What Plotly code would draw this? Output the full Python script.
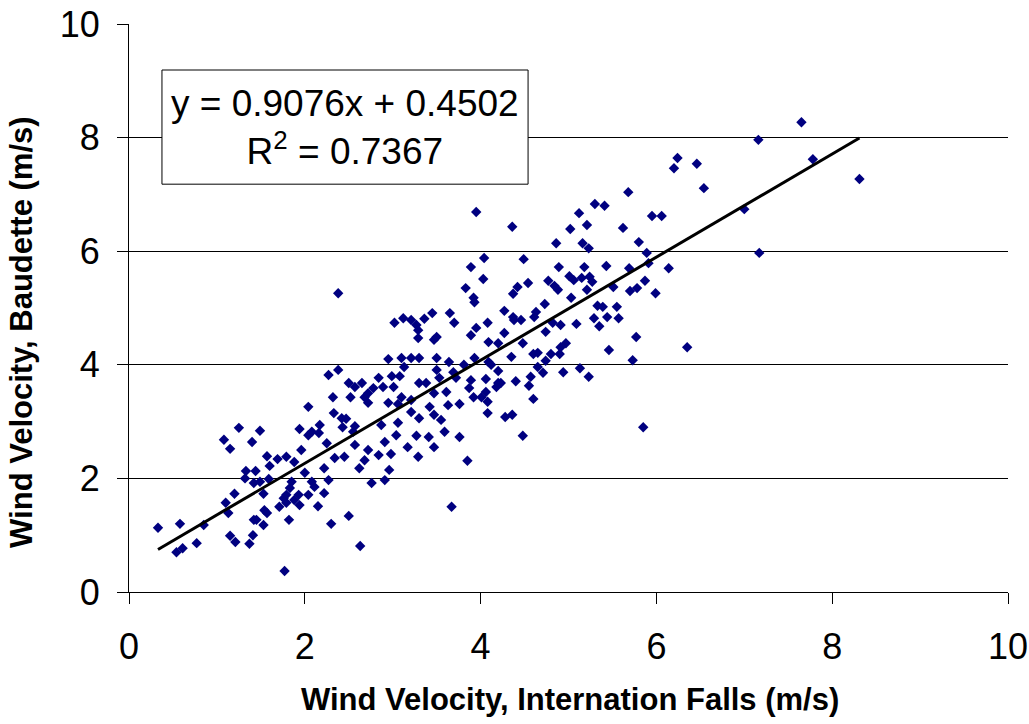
import plotly.graph_objects as go

# Wind velocity (m/s) at International Falls (x) and Baudette (y)
wind_intl_falls = [
    2.04, 1.25, 1.49, 1.94, 1.08, 1.40, 1.15, 1.57, 1.69, 1.79, 1.88, 1.60, 1.33, 1.44, 1.32, 1.42, 1.49, 1.59,
    1.85, 2.00, 1.83, 1.79, 1.93, 1.53, 1.20, 1.10, 1.13, 1.71, 1.79, 1.94, 2.04, 1.54, 1.57, 1.82, 1.42, 1.45,
    1.53, 0.85, 0.58, 0.33, 1.15, 1.21, 1.41, 1.37, 0.77, 0.54, 0.61, 1.77, 1.76, 1.88, 1.96,
    2.33, 2.42, 2.47, 2.17, 2.08, 2.04, 2.16, 2.43, 2.57, 2.55, 2.72, 2.95, 3.06, 3.21, 3.30, 3.42, 3.47, 3.55,
    3.63, 3.76, 3.59, 3.76, 3.47, 3.41, 3.27, 3.17, 3.04, 3.06, 2.87, 2.91, 2.72, 2.84, 2.98, 2.68, 2.62, 2.96,
    2.91, 2.76, 3.29, 3.85, 2.57, 2.45, 2.34, 2.25, 2.22, 2.27, 2.08, 2.11, 2.22, 2.15, 3.67, 2.50, 2.30, 2.63,
    2.38, 3.89, 3.83, 3.92, 3.93, 3.02, 3.12, 3.21, 3.27, 3.29, 3.36, 3.45, 3.29, 3.47, 3.50, 3.65, 3.70, 3.89,
    3.95, 2.95, 3.10, 3.21, 3.30, 3.13, 3.50, 3.64, 3.93, 2.38, 2.27, 3.50, 3.69, 3.81, 2.99, 3.08, 2.84, 2.50,
    2.65, 2.57, 2.78, 2.89, 3.01, 3.30, 3.38, 3.53, 3.72, 3.89, 2.72, 2.68, 2.32, 2.52, 3.10, 3.21, 3.47, 3.61,
    3.92, 3.87,
    3.95, 4.36, 5.68, 5.30, 5.41, 5.12, 5.21, 5.02, 5.62, 4.86, 5.16, 5.23, 5.80, 5.89, 4.04, 4.49, 4.89, 5.18,
    5.43, 5.69, 4.03, 4.54, 4.42, 4.37, 4.77, 4.84, 4.88, 5.01, 5.06, 5.15, 5.24, 5.27, 5.21, 5.03, 5.51, 5.70,
    5.78, 5.87, 4.27, 4.37, 4.46, 4.63, 4.61, 4.73, 4.82, 4.91, 5.09, 5.33, 5.39, 5.55, 5.29, 5.44, 5.57, 5.35,
    5.77, 4.08, 4.09, 4.20, 4.27, 4.38, 4.48, 4.74, 4.97,
    4.35, 4.60, 4.65, 4.80, 4.90, 4.91, 5.46, 5.73, 4.74, 4.65, 4.71, 4.94, 5.13, 5.23, 4.57, 4.55, 4.40, 4.60,
    4.09, 4.12, 4.20, 4.06, 4.20, 4.23, 4.18, 4.06, 4.01, 4.08, 4.08, 4.28, 4.36, 4.48, 5.85,
    7.65, 7.16, 7.78, 8.31, 6.24, 6.20, 6.46, 6.54, 7.00, 5.95, 6.06, 7.17, 5.91, 6.14, 5.99, 6.35,
]
wind_baudette = [
    3.26, 2.89, 2.84, 2.87, 2.68, 2.64, 2.52, 2.39, 2.34, 2.38, 2.29, 2.22, 2.13, 2.13, 2.00, 1.92, 1.94, 1.99,
    1.94, 2.10, 1.83, 1.71, 1.71, 1.73, 1.73, 1.57, 1.39, 1.50, 1.57, 1.53, 1.71, 1.44, 1.39, 1.27, 1.27, 1.27,
    1.18, 1.18, 1.20, 1.13, 0.99, 0.88, 1.00, 0.85, 0.86, 0.70, 0.77, 0.37, 1.65, 1.62, 2.50,
    3.15, 3.06, 3.05, 2.94, 2.82, 2.76, 2.80, 2.90, 2.92, 2.82, 3.33, 3.33, 3.31, 3.17, 3.06, 3.26, 3.12, 3.03,
    3.29, 3.31, 2.82, 2.73, 2.55, 2.73, 2.75, 2.55, 2.76, 2.98, 2.94, 2.64, 2.50, 2.41, 2.43, 2.32, 2.18, 2.15,
    1.97, 1.92, 2.38, 2.31, 2.59, 2.38, 2.36, 2.62, 2.18, 1.97, 1.94, 1.85, 1.74, 1.51, 1.50, 1.34, 1.20, 0.81,
    5.26, 5.72, 5.35, 5.18, 5.10, 4.74, 4.82, 4.79, 4.70, 4.61, 4.81, 4.91, 4.47, 4.44, 4.49, 4.91, 4.74, 4.52,
    4.65, 4.10, 4.12, 4.12, 4.12, 3.96, 4.12, 4.05, 4.12, 3.91, 3.82, 3.91, 3.87, 4.00, 3.80, 3.80, 3.77, 3.68,
    3.68, 3.61, 3.59, 3.61, 3.61, 3.68, 3.68, 3.77, 3.77, 3.73, 3.50, 3.43, 3.43, 3.43, 3.43, 3.38, 3.50, 3.52,
    3.43, 3.59,
    6.69, 6.43, 7.04, 6.83, 6.80, 6.67, 6.46, 6.39, 6.41, 6.14, 6.14, 6.05, 6.16, 5.97, 5.88, 5.86, 5.72, 5.72,
    5.74, 5.70, 5.51, 5.44, 5.37, 5.25, 5.48, 5.39, 5.32, 5.56, 5.49, 5.53, 5.55, 5.46, 5.32, 5.18, 5.37, 5.30,
    5.35, 5.48, 4.95, 4.84, 4.79, 4.93, 4.84, 5.07, 4.74, 4.70, 4.72, 5.04, 5.02, 5.02, 4.82, 4.84, 4.82, 4.68,
    4.49, 4.74, 4.40, 4.38, 4.56, 4.79, 4.38, 4.58, 4.38,
    4.14, 4.19, 4.21, 4.19, 4.19, 4.31, 4.26, 4.08, 4.07, 3.96, 3.86, 3.87, 3.94, 3.79, 3.79, 3.63, 3.71, 3.40,
    4.05, 4.00, 3.89, 3.75, 3.68, 3.68, 3.61, 3.52, 3.43, 3.35, 3.15, 3.08, 3.12, 2.75, 2.90,
    8.27, 7.96, 7.62, 7.27, 7.64, 7.46, 7.54, 7.11, 6.74, 6.62, 6.62, 5.97, 5.79, 5.70, 5.26, 4.31,
]

# Linear trend shown on the chart
trend_slope = 0.9076
trend_intercept = 0.4502
r_squared = 0.7367

x_tick_vals = [0, 2, 4, 6, 8, 10]
y_tick_vals = [0, 2, 4, 6, 8, 10]

FONT = "Liberation Sans, Arial, sans-serif"

fig = go.Figure()
fig.add_trace(go.Scatter(
    x=wind_intl_falls, y=wind_baudette, mode="markers",
    marker=dict(symbol="diamond", size=8, color="#000080", line=dict(width=0)),
    hoverinfo="x+y", cliponaxis=False,
))

x_lo, x_hi = min(wind_intl_falls), max(wind_intl_falls)
fig.add_trace(go.Scatter(
    x=[x_lo, x_hi],
    y=[trend_slope * x_lo + trend_intercept, trend_slope * x_hi + trend_intercept],
    mode="lines", line=dict(color="black", width=3), hoverinfo="skip",
))

fig.update_layout(
    width=1029, height=724,
    margin=dict(l=129, r=21, t=24, b=132, autoexpand=False),
    plot_bgcolor="white", paper_bgcolor="white",
    showlegend=False,
    font=dict(family=FONT, color="black"),
    xaxis=dict(
        range=[0, 10], tickvals=x_tick_vals, showgrid=False, zeroline=False,
        showline=True, linecolor="black", linewidth=1, automargin=False,
        ticks="outside", ticklen=11, tickcolor="black", tickwidth=1,
        ticklabelstandoff=12, ticklabeloverflow="allow",
        tickfont=dict(size=36, family=FONT, color="black"),
    ),
    yaxis=dict(
        range=[0, 10], tickvals=y_tick_vals, showgrid=True, gridcolor="black", gridwidth=1,
        zeroline=False, showline=True, linecolor="black", linewidth=1, automargin=False,
        ticks="outside", ticklen=11, tickcolor="black", tickwidth=1,
        ticklabelstandoff=10, ticklabeloverflow="allow",
        tickfont=dict(size=36, family=FONT, color="black"),
    ),
)

# Equation box
fig.add_shape(type="rect", xref="paper", yref="paper",
              x0=0.0375, x1=0.454, y0=0.718, y1=0.919,
              line=dict(color="black", width=1), fillcolor="white", layer="above")
fig.add_annotation(
    xref="paper", yref="paper", x=0.246, y=0.8185, xanchor="center", yanchor="middle",
    text=f"y = {trend_slope:.4f}x + {trend_intercept:.4f}<br>R<sup>2</sup> = {r_squared:.4f}",
    showarrow=False, align="center", font=dict(size=37, family=FONT, color="black"),
)

# Axis titles
fig.add_annotation(
    xref="paper", yref="paper", x=0.5017, y=-0.190, xanchor="center", yanchor="middle",
    text="<b>Wind Velocity, Internation Falls (m/s)</b>", showarrow=False,
    font=dict(size=31, family=FONT, color="black"),
)
fig.add_annotation(
    xref="paper", yref="paper", x=-0.1217, y=0.458, xanchor="center", yanchor="middle",
    text="<b>Wind Velocity, Baudette (m/s)</b>", showarrow=False, textangle=-90,
    font=dict(size=31, family=FONT, color="black"),
)

# Remove the page's default body margin so the figure sits at the window's top-left corner
fig.write_html("out.html", config={"displayModeBar": False},
               post_script="document.body.style.margin='0px';")
